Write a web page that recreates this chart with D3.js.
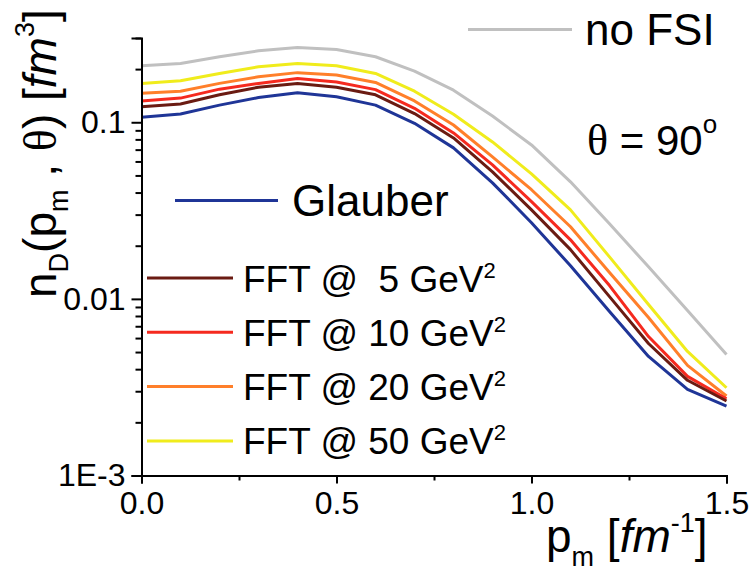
<!DOCTYPE html>
<html>
<head>
<meta charset="utf-8">
<script src="https://cdn.jsdelivr.net/npm/d3@7"></script>
<style>
  html, body { margin: 0; padding: 0; background: #ffffff; }
  svg text { font-family: Arial, "Liberation Sans", Helvetica, sans-serif; fill: #000; }
  .serif { font-family: "Liberation Serif", "Times New Roman", serif; }
</style>
</head>
<body>
<svg id="chart" width="753" height="575"></svg>
<script>
// ---- data ----
const pm = [0.0, 0.1, 0.2, 0.3, 0.4, 0.5, 0.6, 0.7, 0.8, 0.9, 1.0, 1.1, 1.2, 1.3, 1.4, 1.5];
const noFSI   = [0.209, 0.215, 0.235, 0.254, 0.265, 0.258, 0.235, 0.195, 0.152, 0.1085, 0.0744, 0.0460, 0.0266, 0.0152, 0.00859, 0.00485];
const fft50   = [0.166, 0.172, 0.189, 0.206, 0.215, 0.209, 0.189, 0.150, 0.111, 0.0774, 0.0510, 0.0319, 0.0173, 0.00929, 0.00504, 0.00314];
const fft20   = [0.146, 0.150, 0.166, 0.181, 0.191, 0.185, 0.168, 0.132, 0.0965, 0.0637, 0.0415, 0.0256, 0.0141, 0.00784, 0.00420, 0.00282];
const fft10   = [0.132, 0.137, 0.154, 0.166, 0.177, 0.169, 0.153, 0.120, 0.0870, 0.0574, 0.0355, 0.0216, 0.0119, 0.00612, 0.00364, 0.00272];
const fft5    = [0.1225, 0.127, 0.143, 0.158, 0.166, 0.158, 0.143, 0.112, 0.0815, 0.0524, 0.0319, 0.0190, 0.0103, 0.00559, 0.00346, 0.00264];
const glauber = [0.1067, 0.1114, 0.125, 0.138, 0.147, 0.1395, 0.125, 0.0987, 0.0716, 0.0454, 0.0270, 0.0154, 0.00848, 0.00472, 0.00307, 0.00247];

const xTickValues = [0.0, 0.5, 1.0, 1.5];
const xTickLabels = ["0.0", "0.5", "1.0", "1.5"];
const xMinorTicks = [0.25, 0.75, 1.25];
const yTickValues = [0.001, 0.01, 0.1];
const yTickLabels = ["1E-3", "0.01", "0.1"];
const yMinorTicks = [0.002,0.003,0.004,0.005,0.006,0.007,0.008,0.009,
                     0.02,0.03,0.04,0.05,0.06,0.07,0.08,0.09,0.2,0.3];

const fftLabels = ["FFT @  5 GeV", "FFT @ 10 GeV", "FFT @ 20 GeV", "FFT @ 50 GeV"];
const colors = { noFSI: "#c0c0c0", fft50: "#f0ec1c", fft20: "#ff7f2a", fft10: "#f52a1f", fft5: "#6a1b12", glauber: "#1f3597" };

// ---- scales ----
const svg = d3.select("#chart");
const x = d3.scaleLinear().domain([0, 1.5]).range([141.5, 726.5]);
const y = d3.scaleLog().domain([0.001, 0.3]).range([475.5, 38]);

// ---- curves ----
const line = d3.line().x((d, i) => x(pm[i])).y(d => y(d));
const series = [
  { v: noFSI, c: colors.noFSI },
  { v: fft50, c: colors.fft50 },
  { v: fft20, c: colors.fft20 },
  { v: fft10, c: colors.fft10 },
  { v: fft5,  c: colors.fft5 },
  { v: glauber, c: colors.glauber }
];
svg.append("g").selectAll("path").data(series).join("path")
  .attr("d", d => line(d.v))
  .attr("fill", "none")
  .attr("stroke", d => d.c)
  .attr("stroke-width", 3)
  .attr("stroke-linejoin", "round");

// ---- axes ----
const xAxis = d3.axisBottom(x).tickValues(xTickValues)
  .tickFormat((d, i) => xTickLabels[i]).tickSizeOuter(0).tickSize(8).tickPadding(8);
const gx = svg.append("g").attr("transform", `translate(0,${y(0.001)})`).call(xAxis);
const gxm = svg.append("g").attr("transform", `translate(0,${y(0.001)})`)
  .call(d3.axisBottom(x).tickValues(xMinorTicks).tickFormat("").tickSize(5).tickSizeOuter(0));

const yAxis = d3.axisLeft(y).tickValues(yTickValues)
  .tickFormat((d, i) => yTickLabels[i]).tickSizeOuter(0).tickSize(10).tickPadding(6);
const gy = svg.append("g").attr("transform", `translate(${x(0)},0)`).call(yAxis);
const gym = svg.append("g").attr("transform", `translate(${x(0)},0)`)
  .call(d3.axisLeft(y).tickValues(yMinorTicks).tickFormat("").tickSize(6).tickSizeOuter(0));

[gx, gxm, gy, gym].forEach(g => {
  g.selectAll("path.domain").attr("stroke", "#000").attr("stroke-width", 2);
  g.selectAll(".tick line").attr("stroke", "#000").attr("stroke-width", 2);
});
gx.selectAll("text").attr("font-size", 32).style("font-family", "Arial, 'Liberation Sans', sans-serif");
gy.selectAll("text").attr("font-size", 32).style("font-family", "Arial, 'Liberation Sans', sans-serif");

// ---- axis titles ----
const xt = svg.append("text").attr("x", 546).attr("y", 552).attr("font-size", 46);
xt.append("tspan").text("p");
xt.append("tspan").attr("font-size", 27).attr("dy", 14).text("m");
xt.append("tspan").attr("dy", -14).text(" [");
xt.append("tspan").attr("font-style", "italic").text("fm");
xt.append("tspan").attr("font-size", 27).attr("dy", -20).text("-1");
xt.append("tspan").attr("dy", 20).text("]");

const yt = svg.append("text").attr("transform", "translate(56,298) rotate(-90)").attr("font-size", 46);
yt.append("tspan").text("n");
yt.append("tspan").attr("font-size", 27).attr("dy", 12).text("D");
yt.append("tspan").attr("dy", -12).text("(p");
yt.append("tspan").attr("font-size", 27).attr("dy", 12).text("m");
yt.append("tspan").attr("dy", -12).style("white-space", "pre").text(" , ");
yt.append("tspan").attr("class", "serif").text("\u03B8");
yt.append("tspan").style("white-space", "pre").text(") [");
yt.append("tspan").attr("font-style", "italic").text("fm");
yt.append("tspan").attr("font-size", 27).attr("dy", -22).text("3");
yt.append("tspan").attr("dy", 22).text("]");

// ---- legend ----
const leg = svg.append("g");
leg.append("line").attr("x1", 468).attr("x2", 572).attr("y1", 29.5).attr("y2", 29.5)
  .attr("stroke", colors.noFSI).attr("stroke-width", 3);
leg.append("text").attr("x", 585).attr("y", 45).attr("font-size", 44).text("no FSI");

const th = leg.append("text").attr("x", 587).attr("y", 155).attr("font-size", 42)
  .style("white-space", "pre");
th.append("tspan").attr("class", "serif").attr("font-size", 44).text("\u03B8");
th.append("tspan").text(" = 90");
th.append("tspan").attr("font-size", 26).attr("dy", -22).text("o");

leg.append("line").attr("x1", 175).attr("x2", 278).attr("y1", 200.5).attr("y2", 200.5)
  .attr("stroke", colors.glauber).attr("stroke-width", 3);
leg.append("text").attr("x", 292).attr("y", 216).attr("font-size", 44).text("Glauber");

const fftColors = [colors.fft5, colors.fft10, colors.fft20, colors.fft50];
fftLabels.forEach((lab, i) => {
  const yy = 278 + i * 54.3;
  leg.append("line").attr("x1", 147).attr("x2", 233).attr("y1", yy).attr("y2", yy)
    .attr("stroke", fftColors[i]).attr("stroke-width", 3);
  const t = leg.append("text").attr("x", 243).attr("y", yy + 13.5).attr("font-size", 37)
    .style("white-space", "pre");
  t.append("tspan").text(lab);
  t.append("tspan").attr("font-size", 22).attr("dy", -14).text("2");
});
</script>
</body>
</html>
